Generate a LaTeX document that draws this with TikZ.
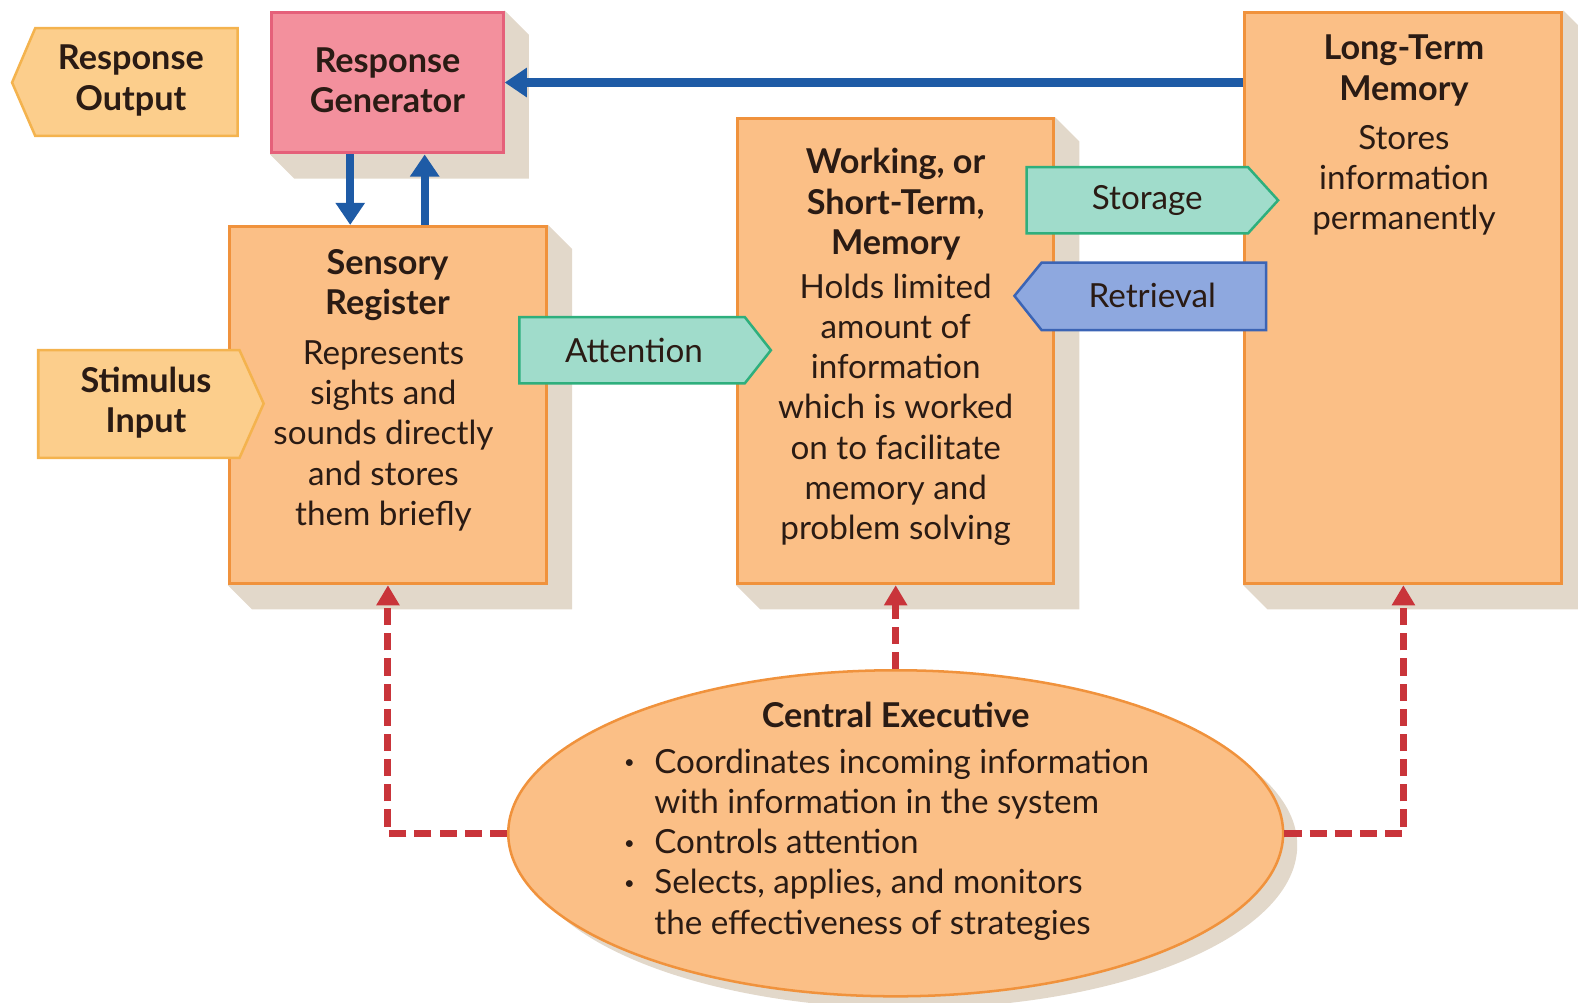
\documentclass[tikz,border=0pt]{standalone}
\usepackage{fontspec}
\setmainfont{Lato}
\usetikzlibrary{arrows.meta,shapes.geometric}
\definecolor{boxfill}{HTML}{FBBF86}
\definecolor{boxline}{HTML}{F0923C}
\definecolor{iofill}{HTML}{FCCE8C}
\definecolor{ioline}{HTML}{F4B34E}
\definecolor{pinkfill}{HTML}{F3909D}
\definecolor{pinkline}{HTML}{E5607A}
\definecolor{tealfill}{HTML}{A0DCCB}
\definecolor{tealline}{HTML}{2EAF7D}
\definecolor{retfill}{HTML}{8EA8DF}
\definecolor{retline}{HTML}{3B64B5}
\definecolor{bluearr}{HTML}{1E5BA6}
\definecolor{redarr}{HTML}{C9343A}
\definecolor{txtc}{HTML}{2A1B14}
\definecolor{shadowc}{HTML}{E2D8CA}
\pgfdeclarelayer{bg}
\pgfsetlayers{bg,main}
\newcommand{\cebul}{\makebox[34pt][l]{\hspace*{4pt}\raisebox{0.25ex}{\scalebox{0.55}{\textbullet}}}}
\begin{document}
\begin{tikzpicture}[x=1pt,y=-1pt,
  box/.style={rectangle, draw=boxline, fill=boxfill, line width=3pt, inner sep=0pt},
  txt/.style={font=\fontsize{33}{40}\selectfont, text=txtc, align=center, inner sep=0pt},
  hd/.style={font=\fontsize{34}{40}\selectfont\bfseries, text=txtc, align=center, inner sep=0pt},
  flow/.style={line width=2.5pt},
  bluearrow/.style={draw=bluearr, line width=8pt, -{Triangle[width=28pt,length=22pt]}},
  redarrow/.style={draw=redarr, line width=7pt, dash pattern=on 17pt off 8pt, -{Triangle[width=22pt,length=20pt]}}
]
\useasboundingbox (0,0) rectangle (1568,996);

% main boxes
\node[box, fill=pinkfill, draw=pinkline, minimum width=230pt, minimum height=140pt] (rg) at (385,82) {};
\node[box, minimum width=315pt, minimum height=355pt] (sr) at (385.5,402.5) {};
\node[box, minimum width=314pt, minimum height=462pt] (wm) at (890,349) {};
\node[box, minimum width=315pt, minimum height=568pt] (ltm) at (1394.5,296) {};
\node[ellipse, draw=boxline, fill=boxfill, line width=2.5pt, minimum width=770pt, minimum height=324pt, inner sep=0pt] (ce) at (890,828) {};

% shadows
\begin{pgfonlayer}{bg}
\foreach \b in {rg,sr,wm,ltm}{
  \fill[shadowc] (\b.north east) -- ([shift={(24,24)}]\b.north east) -- ([shift={(24,24)}]\b.south east) -- ([shift={(24,24)}]\b.south west) -- (\b.south west) -- cycle;
}
\fill[shadowc] ([shift={(14,12)}]ce.center) ellipse [x radius=385, y radius=162];
\end{pgfonlayer}

% arrow-shaped labels
\draw[flow, fill=iofill, draw=ioline] (12,82) -- (35,28) -- (236,28) -- (236,135) -- (35,135) -- cycle;
\draw[flow, fill=iofill, draw=ioline] (38,348) -- (238,348) -- (262,401) -- (238,455) -- (38,455) -- cycle;
\draw[flow, fill=tealfill, draw=tealline] (516,315) -- (740,315) -- (766,348) -- (740,381) -- (516,381) -- cycle;
\draw[flow, fill=tealfill, draw=tealline] (1020,166) -- (1240,166) -- (1270,199) -- (1240,232) -- (1020,232) -- cycle;
\draw[flow, fill=retfill, draw=retline] (1008,294) -- (1035,261) -- (1258,261) -- (1258,328) -- (1035,328) -- cycle;

% texts
\node[hd] (rotext) at (130,80) {Response\\Output};
\node[hd] (rgtext) at (385,80) {Response\\Generator};
\node[hd] (srhead) at (385,283) {Sensory\\Register};
\node[txt] (srbody) at (381,433) {Represents\\sights and\\sounds directly\\and stores\\them briefly};
\node[hd] (sitext) at (145,400) {Stimulus\\Input};
\node[txt] (atttext) at (630,348) {Attention};
\node[hd] (wmhead) at (890,203) {Working, or\\Short-Term,\\Memory};
\node[txt] (wmbody) at (890,407) {Holds limited\\amount of\\information\\which is worked\\on to facilitate\\memory and\\problem solving};
\node[txt] (stotext) at (1140,199) {Storage};
\node[txt] (rettext) at (1145,294) {Retrieval};
\node[hd] (ltmhead) at (1395,70) {Long-Term\\Memory};
\node[txt] (ltmbody) at (1395,179) {Stores\\information\\permanently};
\node[hd] (cehead) at (890,710) {Central Executive};
\node[txt, align=left, anchor=west] (cebody) at (616,839) {\cebul Coordinates incoming information\\\hspace*{34pt}with information in the system\\\cebul Controls attention\\\cebul Selects, applies, and monitors\\\hspace*{34pt}the effectiveness of strategies};

% blue arrows
\coordinate (dn) at (348,0);
\coordinate (up) at (422,0);
\draw[bluearrow] (ltm.west |- rg.east) -- (rg.east);
\draw[bluearrow] (dn |- rg.south) -- (dn |- sr.north);
\draw[bluearrow] (up |- sr.north) -- (up |- rg.south);

% red dashed arrows
\draw[redarrow] (ce.west) -| (sr.south);
\draw[redarrow] (ce.north) -- (wm.south);
\draw[redarrow] (ce.east) -| (ltm.south);
\end{tikzpicture}
\end{document}
